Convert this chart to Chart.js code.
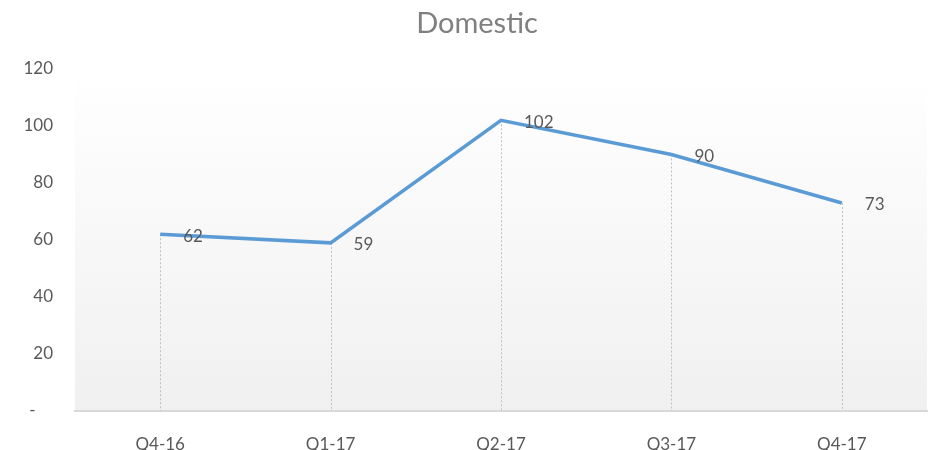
<!DOCTYPE html>
<html>
<head>
<meta charset="utf-8">
<script src="https://cdn.jsdelivr.net/npm/chart.js@4"></script>
<style>
  html, body { margin: 0; padding: 0; background: #fff; }
  #wrap { width: 934px; height: 450px; }
</style>
</head>
<body>
<div id="wrap"><canvas id="grafico" width="934" height="450"></canvas></div>
<script>
// Dados do gráfico
const trimestres = ['Q4-16', 'Q1-17', 'Q2-17', 'Q3-17', 'Q4-17'];
const domestico = [62, 59, 102, 90, 73];
const ticksY = [0, 20, 40, 60, 80, 100, 120];
const titulo = 'Domestic';

const corLinha = '#5B9BD5';
const corTexto = '#595959';
const fonte = 'Lato, "Open Sans", sans-serif';

// Fundo em degradê na área do gráfico + título
const fundoDegrade = {
  id: 'fundoDegrade',
  beforeDraw(chart) {
    const { ctx, chartArea: a } = chart;
    const g = ctx.createLinearGradient(0, a.top, 0, a.bottom);
    g.addColorStop(0, '#ffffff');
    g.addColorStop(1, '#f0f0f0');
    ctx.save();
    ctx.fillStyle = g;
    ctx.fillRect(a.left, a.top, a.right - a.left, a.bottom - a.top);
    ctx.fillStyle = '#808080';
    ctx.font = '29px ' + fonte;
    ctx.textAlign = 'center';
    ctx.textBaseline = 'middle';
    ctx.fillText(titulo, 477, 24);
    ctx.restore();
  }
};

// Linhas de queda pontilhadas e rótulos
const linhasQueda = {
  id: 'linhasQueda',
  beforeDatasetsDraw(chart) {
    const { ctx, chartArea: a } = chart;
    const meta = chart.getDatasetMeta(0);
    ctx.save();
    ctx.strokeStyle = '#bfbfbf';
    ctx.lineWidth = 1;
    ctx.setLineDash([2, 2]);
    meta.data.forEach(p => {
      const x = Math.round(p.x) + 0.5;
      ctx.beginPath();
      ctx.moveTo(x, p.y);
      ctx.lineTo(x, a.bottom);
      ctx.stroke();
    });
    ctx.restore();
  },
  afterDatasetsDraw(chart) {
    const { ctx } = chart;
    const meta = chart.getDatasetMeta(0);
    ctx.save();
    ctx.fillStyle = corTexto;
    ctx.font = '17px ' + fonte;
    ctx.textAlign = 'left';
    ctx.textBaseline = 'middle';
    meta.data.forEach((p, i) => {
      ctx.fillText(String(domestico[i]), p.x + 23, p.y + 2);
    });
    ctx.restore();
  }
};

const ctx = document.getElementById('grafico').getContext('2d');
new Chart(ctx, {
  type: 'line',
  data: {
    labels: trimestres,
    datasets: [{
      label: titulo,
      data: domestico,
      borderColor: corLinha,
      borderWidth: 3.5,
      pointRadius: 0,
      tension: 0,
      fill: false
    }]
  },
  options: {
    responsive: false,
    animation: false,
    layout: { padding: { left: 0, right: 7, top: 69, bottom: 0 } },
    plugins: {
      legend: { display: false },
      tooltip: { enabled: false },
      title: { display: false }
    },
    scales: {
      x: {
        offset: true,
        grid: { display: false },
        border: { display: true, color: '#d9d9d9', width: 2 },
        ticks: { color: corTexto, font: { family: fonte, size: 17 }, padding: 15 },
        afterFit(scale) { scale.height = 39; }
      },
      y: {
        min: 0,
        max: 120,
        grid: { display: false, drawTicks: false },
        border: { display: false },
        afterBuildTicks(scale) { scale.ticks = ticksY.map(v => ({ value: v })); },
        ticks: {
          color: corTexto,
          font: { family: fonte, size: 17 },
          padding: 22,
          callback: v => v === 0 ? '-    ' : v
        },
        afterFit(scale) { scale.width = 75; }
      }
    }
  },
  plugins: [fundoDegrade, linhasQueda]
});
</script>
</body>
</html>
